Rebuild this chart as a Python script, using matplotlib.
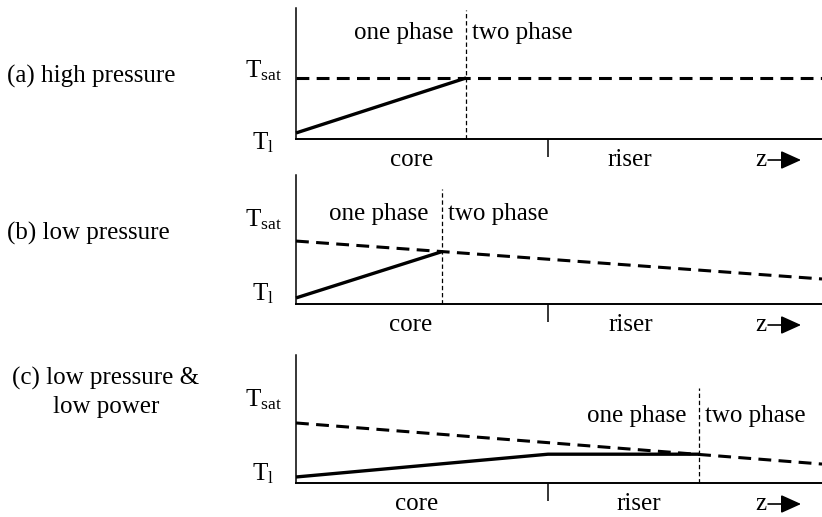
import matplotlib
matplotlib.use('Agg')
import matplotlib.pyplot as plt
from matplotlib.transforms import blended_transform_factory

plt.rcParams['font.family'] = ['Liberation Serif', 'DejaVu Serif']
plt.rcParams['font.size'] = 18
plt.rcParams['mathtext.fontset'] = 'custom'
plt.rcParams['mathtext.rm'] = 'Liberation Serif'
plt.rcParams['mathtext.it'] = 'Liberation Serif:italic'

# axial position, core runs 0..1, riser 1..z_top
z_core = 1.0
z_top = 2.087

# (a) high pressure
liq_z_a = [0.0, 0.675]
liq_t_a = [0.046, 0.466]
sat_z_a = [0.0, z_top]
sat_t_a = [0.466, 0.466]
boil_a = 0.675

# (b) low pressure
liq_z_b = [0.0, 0.579]
liq_t_b = [0.047, 0.406]
sat_z_b = [0.0, z_top]
sat_t_b = [0.488, 0.194]
boil_b = 0.579

# (c) low pressure & low power
liq_z_c = [0.0, 1.0, 1.6]
liq_t_c = [0.047, 0.225, 0.225]
sat_z_c = [0.0, z_top]
sat_t_c = [0.469, 0.148]
boil_c = 1.6

titles = ['(a) high pressure', '(b) low pressure', '(c) low pressure &\nlow power']

W, H = 822, 517
fig = plt.figure(figsize=(W / 100, H / 100), dpi=100)

# panel layout in pixels: axis row, top of y axis, label rows
panels = [
    dict(axis=139, top=8, liq=(liq_z_a, liq_t_a), sat=(sat_z_a, sat_t_a), boil=boil_a,
         tsat_y=77, tl_y=149, phase_y=39, div_top=10, core_x=0.46, riser_x=1.325,
         title_xy=(7, 83), title_ha='left'),
    dict(axis=304, top=175, liq=(liq_z_b, liq_t_b), sat=(sat_z_b, sat_t_b), boil=boil_b,
         tsat_y=226, tl_y=300, phase_y=220, div_top=189, core_x=0.455, riser_x=1.33,
         title_xy=(7, 240), title_ha='left'),
    dict(axis=483, top=355, liq=(liq_z_c, liq_t_c), sat=(sat_z_c, sat_t_c), boil=boil_c,
         tsat_y=406, tl_y=480, phase_y=422, div_top=388, core_x=0.48, riser_x=1.36,
         title_xy=(106, 413), title_ha='center'),
]

x0 = 296
for title, p in zip(titles, panels):
    h = p['axis'] - p['top']
    ax = fig.add_axes([x0 / W, (H - p['axis']) / H, (W - x0) / W, h / H])
    ax.set_xlim(0, z_top)
    ax.set_ylim(0, 1)
    for s in ['top', 'right']:
        ax.spines[s].set_visible(False)
    ax.spines['left'].set_linewidth(1.1)
    ax.spines['bottom'].set_linewidth(1.4)
    ax.set_yticks([])
    ax.set_xticks([z_core])
    ax.set_xticklabels([])
    ax.tick_params(axis='x', direction='out', length=13, width=1.1)

    def fy(px):
        # pixel row -> axes fraction (0 at the z axis)
        return (p['axis'] - px) / h

    ax.plot(*p['sat'], color='k', lw=2.2, ls=(0, (4.2, 2.4)), clip_on=False)
    ax.plot(*p['liq'], color='k', lw=2.4, solid_capstyle='butt', clip_on=False)
    ax.plot([p['boil'], p['boil']], [0, fy(p['div_top'])], color='k', lw=0.9,
            ls=(0, (3.5, 2.2)), clip_on=False)

    tr = blended_transform_factory(ax.transData, ax.transAxes)
    ax.annotate(r'$\mathrm{T}_{\mathrm{sat}}$', xy=(0, fy(p['tsat_y'])), xycoords='axes fraction',
                xytext=(-14, 0), textcoords='offset pixels', ha='right', va='baseline')
    ax.annotate(r'$\mathrm{T}_{\mathrm{l}}$', xy=(0, fy(p['tl_y'])), xycoords='axes fraction',
                xytext=(-22, 0), textcoords='offset pixels', ha='right', va='baseline')

    ax.annotate('one phase', xy=(p['boil'], fy(p['phase_y'])), xycoords=tr,
                xytext=(-13, 0), textcoords='offset pixels', ha='right', va='baseline')
    ax.annotate('two phase', xy=(p['boil'], fy(p['phase_y'])), xycoords=tr,
                xytext=(6, 0), textcoords='offset pixels', ha='left', va='baseline')

    ax.annotate('core', xy=(p['core_x'], 0), xycoords=tr, xytext=(0, -27),
                textcoords='offset pixels', ha='center', va='baseline')
    ax.annotate('riser', xy=(p['riser_x'], 0), xycoords=tr, xytext=(0, -27),
                textcoords='offset pixels', ha='center', va='baseline')
    ax.annotate('z', xy=(1.821, 0), xycoords=tr, xytext=(0, -27),
                textcoords='offset pixels', ha='left', va='baseline')
    ay = -21 / h
    ax.annotate('', xy=(2.004, ay), xycoords=tr, xytext=(1.873, ay), textcoords=tr,
                arrowprops=dict(arrowstyle='-|>,head_length=0.62,head_width=0.28',
                                mutation_scale=20, lw=1.2, color='k',
                                shrinkA=0, shrinkB=0))

    tx, ty = p['title_xy']
    fig.text(tx / W, (H - ty) / H, title, ha=p['title_ha'], va='baseline',
             multialignment='center', linespacing=1.36)

fig.savefig('out.png', dpi=100)
